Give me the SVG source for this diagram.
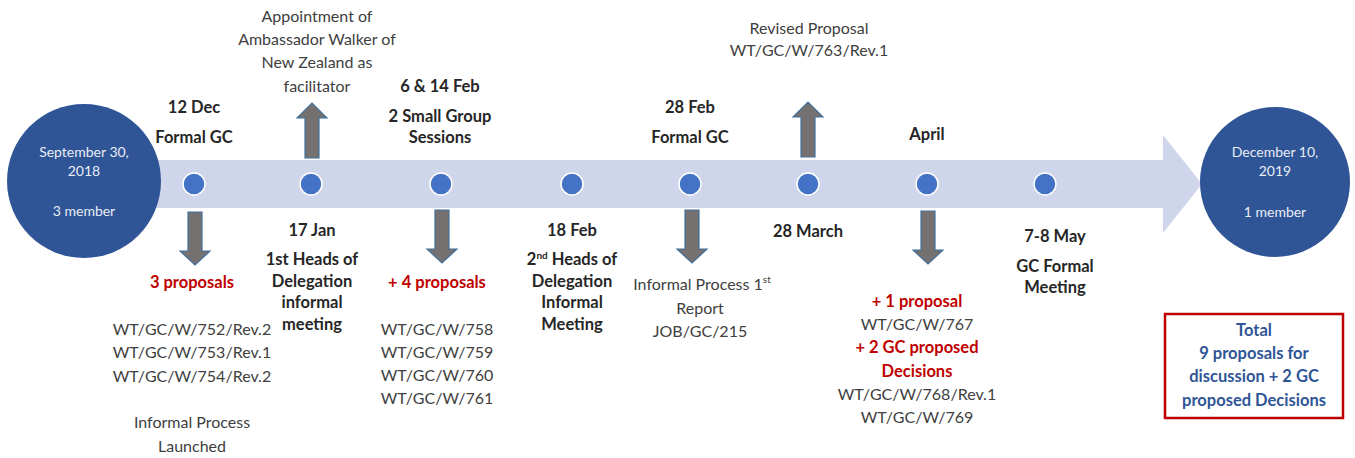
<svg xmlns="http://www.w3.org/2000/svg" xmlns:xlink="http://www.w3.org/1999/xlink" width="1355" height="458" viewBox="0 0 1355 458">
  <style>
    text { font-family: Lato, "Liberation Sans", sans-serif; text-anchor: middle; }
    .hd { font-size: 16.5px; font-weight: bold; fill: #262626; }
    .tx { font-size: 16px; fill: #404040; }
    .red { font-size: 16.5px; font-weight: bold; fill: #c00000; }
    .ctx { font-size: 14px; fill: #e9edf5; }
    .tot { font-size: 16.5px; font-weight: bold; fill: #2f5597; }
    .sup { font-size: 10px; }
    .band { fill: #cfd5ea; }
    .end { fill: #2f5597; }
    .dot { fill: #4472c4; stroke: #ffffff; stroke-width: 1.5; }
    .arr { fill: #767171; stroke: #41719c; stroke-width: 1.2; }
  </style>
  <defs>
    <path id="down-arrow" d="M-7,0 H7 V39 H15 L0,53 L-15,39 H-7 Z"/>
    <path id="up-arrow" d="M-7,55 H7 V15 H15 L0,0 L-15,15 H-7 Z"/>
  </defs>

  <!-- timeline band with arrow head -->
  <polygon class="band" points="140,160 1163,160 1163,135 1202,184 1163,233 1163,208 140,208"/>

  <!-- connectors: event arrows -->
  <g id="connectors">
    <use xlink:href="#down-arrow" class="arr" x="195" y="212"/>
    <use xlink:href="#up-arrow" class="arr" x="312" y="103"/>
    <use xlink:href="#down-arrow" class="arr" x="442" y="210"/>
    <use xlink:href="#down-arrow" class="arr" x="692" y="210"/>
    <use xlink:href="#up-arrow" class="arr" x="808" y="102"/>
    <use xlink:href="#down-arrow" class="arr" x="928" y="211"/>
  </g>

  <g id="start">
    <circle class="end" cx="84" cy="181" r="77"/>
    <text class="ctx" x="84" y="157">September 30,</text>
    <text class="ctx" x="84" y="176">2018</text>
    <text class="ctx" x="84" y="216">3 member</text>
  </g>

  <g id="finish">
    <circle class="end" cx="1275" cy="182" r="75"/>
    <text class="ctx" x="1275" y="157">December 10,</text>
    <text class="ctx" x="1275" y="176">2019</text>
    <text class="ctx" x="1275" y="217">1 member</text>
  </g>

  <g id="dec12">
    <circle class="dot" cx="194" cy="184" r="11"/>
    <text class="hd" x="194" y="113">12 Dec</text>
    <text class="hd" x="194" y="143">Formal GC</text>
    <text class="red" x="192" y="288">3 proposals</text>
    <text class="tx" x="192" y="335">WT/GC/W/752/Rev.2</text>
    <text class="tx" x="192" y="358">WT/GC/W/753/Rev.1</text>
    <text class="tx" x="192" y="382">WT/GC/W/754/Rev.2</text>
    <text class="tx" x="192" y="428">Informal Process</text>
    <text class="tx" x="192" y="452">Launched</text>
  </g>

  <g id="jan17">
    <circle class="dot" cx="311" cy="184" r="11"/>
    <text class="tx" x="317" y="22">Appointment of</text>
    <text class="tx" x="317" y="45">Ambassador Walker of</text>
    <text class="tx" x="317" y="68">New Zealand as</text>
    <text class="tx" x="317" y="92">facilitator</text>
    <text class="hd" x="312" y="236">17 Jan</text>
    <text class="hd" x="312" y="265">1st Heads of</text>
    <text class="hd" x="312" y="287">Delegation</text>
    <text class="hd" x="312" y="308">informal</text>
    <text class="hd" x="312" y="330">meeting</text>
  </g>

  <g id="feb6-14">
    <circle class="dot" cx="441" cy="184" r="11"/>
    <text class="hd" x="440" y="92">6 &amp; 14 Feb</text>
    <text class="hd" x="440" y="122">2 Small Group</text>
    <text class="hd" x="440" y="143">Sessions</text>
    <text class="red" x="437" y="288">+ 4 proposals</text>
    <text class="tx" x="437" y="335">WT/GC/W/758</text>
    <text class="tx" x="437" y="358">WT/GC/W/759</text>
    <text class="tx" x="437" y="381">WT/GC/W/760</text>
    <text class="tx" x="437" y="404">WT/GC/W/761</text>
  </g>

  <g id="feb18">
    <circle class="dot" cx="572" cy="184" r="11"/>
    <text class="hd" x="572" y="236">18 Feb</text>
    <text class="hd" x="572" y="265">2<tspan class="sup" dy="-6">nd</tspan><tspan dy="6"> Heads of</tspan></text>
    <text class="hd" x="572" y="287">Delegation</text>
    <text class="hd" x="572" y="308">Informal</text>
    <text class="hd" x="572" y="330">Meeting</text>
  </g>

  <g id="feb28">
    <circle class="dot" cx="690" cy="184" r="11"/>
    <text class="hd" x="690" y="113">28 Feb</text>
    <text class="hd" x="690" y="143">Formal GC</text>
    <text class="tx" x="702" y="290">Informal Process 1<tspan class="sup" dy="-7">st</tspan></text>
    <text class="tx" x="700" y="314">Report</text>
    <text class="tx" x="700" y="337">JOB/GC/215</text>
  </g>

  <g id="mar28">
    <circle class="dot" cx="808" cy="184" r="11"/>
    <text class="tx" x="809" y="34">Revised Proposal</text>
    <text class="tx" x="809" y="56">WT/GC/W/763/Rev.1</text>
    <text class="hd" x="808" y="237">28 March</text>
  </g>

  <g id="april">
    <circle class="dot" cx="927" cy="184" r="11"/>
    <text class="hd" x="927" y="140">April</text>
    <text class="red" x="917" y="307">+ 1 proposal</text>
    <text class="tx" x="917" y="330">WT/GC/W/767</text>
    <text class="red" x="917" y="353">+ 2 GC proposed</text>
    <text class="red" x="917" y="377">Decisions</text>
    <text class="tx" x="917" y="400">WT/GC/W/768/Rev.1</text>
    <text class="tx" x="917" y="423">WT/GC/W/769</text>
  </g>

  <g id="may7-8">
    <circle class="dot" cx="1045" cy="184" r="11"/>
    <text class="hd" x="1055" y="242">7-8 May</text>
    <text class="hd" x="1055" y="272">GC Formal</text>
    <text class="hd" x="1055" y="293">Meeting</text>
  </g>

  <g id="total">
    <rect x="1165" y="314" width="178" height="104" fill="#ffffff" stroke="#c00000" stroke-width="2.5"/>
    <text class="tot" x="1254" y="336">Total</text>
    <text class="tot" x="1254" y="359">9 proposals for</text>
    <text class="tot" x="1254" y="382">discussion + 2 GC</text>
    <text class="tot" x="1254" y="406">proposed Decisions</text>
  </g>
</svg>
